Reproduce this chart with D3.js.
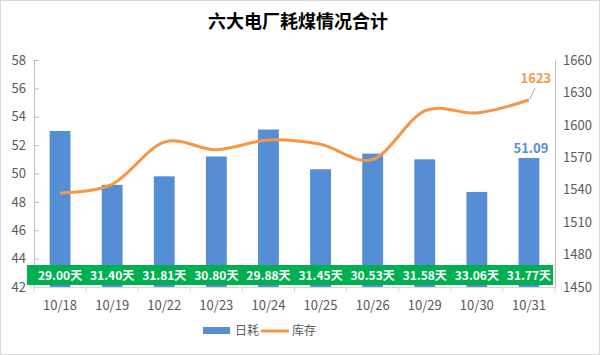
<!DOCTYPE html>
<html><head><meta charset="utf-8">
<script src="https://cdn.jsdelivr.net/npm/d3@7"></script>
<style>body{margin:0;background:#fff}svg{display:block}</style>
</head><body>
<script>
const categories = ["10/18","10/19","10/22","10/23","10/24","10/25","10/26","10/29","10/30","10/31"];
const dailyUse = [53.0, 49.2, 49.8, 51.2, 53.1, 50.3, 51.4, 51.0, 48.7, 51.09];
const stock = [1537, 1545, 1584, 1577, 1586, 1582, 1568, 1613, 1611, 1623];
const daysLabels = ["29.00天","31.40天","31.81天","30.80天","29.88天","31.45天","30.53天","31.58天","33.06天","31.77天"];
const leftTicks = [42,44,46,48,50,52,54,56,58];
const rightTicks = [1450,1480,1510,1540,1570,1600,1630,1660];

const W=600,H=355;
const font='"Microsoft YaHei","Noto Sans CJK SC","Noto Sans",sans-serif';
const svg=d3.select("body").append("svg").attr("width",W).attr("height",H);
svg.append("rect").attr("x",0.5).attr("y",0.5).attr("width",W-1).attr("height",H-1).attr("fill","#fff").attr("stroke","#d9d9d9");

const x=d3.scaleBand().domain(categories).range([34,555]).paddingInner(0.6).paddingOuter(0.3);
const yL=d3.scaleLinear().domain([42,58]).range([287,60]);
const yR=d3.scaleLinear().domain([1450,1660]).range([287,60]);
const step=x.step();

// title
svg.append("text").attr("x",298).attr("y",28).attr("text-anchor","middle")
 .attr("font-family",font).attr("font-size",18).attr("font-weight","bold").attr("fill","#000")
 .text("六大电厂耗煤情况合计");

// left axis
const gl=svg.append("g").attr("transform","translate(34,0)")
 .call(d3.axisLeft(yL).tickValues(leftTicks).tickSize(-5).tickPadding(8));
gl.select(".domain").attr("stroke","#bfbfbf");
gl.selectAll(".tick line").attr("stroke","#bfbfbf");
gl.selectAll(".tick text").attr("fill","#595959").attr("font-size",13).attr("font-family",font);

// right axis
const gr=svg.append("g").attr("transform","translate(555,0)")
 .call(d3.axisRight(yR).tickValues(rightTicks).tickFormat(d3.format("d")).tickSize(0).tickPadding(8));
gr.select(".domain").attr("stroke","#bfbfbf");
gr.selectAll(".tick text").attr("fill","#595959").attr("font-size",13).attr("font-family",font);

// bottom axis
const gb=svg.append("g").attr("transform","translate(0,287)")
 .call(d3.axisBottom(x).tickSize(0).tickPadding(14));
gb.select(".domain").attr("stroke","#d9d9d9");
gb.selectAll(".tick text").attr("fill","#595959").attr("font-size",13).attr("font-family",font);
svg.append("g").selectAll("line").data(d3.range(categories.length+1)).join("line")
 .attr("x1",i=>x.range()[0]+i*step).attr("x2",i=>x.range()[0]+i*step)
 .attr("y1",287).attr("y2",292).attr("stroke","#d9d9d9");

// bars
svg.append("g").selectAll("rect").data(dailyUse).join("rect")
 .attr("x",(d,i)=>x(categories[i])).attr("width",x.bandwidth())
 .attr("y",d=>yL(d)).attr("height",d=>yL(42)-yL(d)).attr("fill","#558ED5");

// green band
svg.append("rect").attr("x",27).attr("y",265).attr("width",526).attr("height",20).attr("fill","#00B050");
svg.append("g").selectAll("text").data(daysLabels).join("text")
 .attr("x",(d,i)=>x(categories[i])+x.bandwidth()/2).attr("y",279.5)
 .attr("text-anchor","middle").attr("font-family",font).attr("font-size",12).attr("font-weight","bold")
 .attr("fill","#fff").text(d=>d);

// line
const line=d3.line().x((d,i)=>x(categories[i])+x.bandwidth()/2).y(d=>yR(d)).curve(d3.curveCatmullRom.alpha(0));
svg.append("path").datum(stock).attr("d",line).attr("fill","none").attr("stroke","#F79646").attr("stroke-width",3);

// labels
const last=stock.length-1;
const lx=x(categories[last])+x.bandwidth()/2;
svg.append("line").attr("x1",lx+1).attr("y1",yR(stock[last])-1).attr("x2",lx+6).attr("y2",yR(stock[last])-12).attr("stroke","#a6a6a6");
svg.append("text").attr("x",lx+7).attr("y",yR(stock[last])-17).attr("text-anchor","middle")
 .attr("font-family",font).attr("font-size",13).attr("font-weight","bold").attr("fill","#F79646").text(stock[last]);
svg.append("text").attr("x",lx+2).attr("y",yL(dailyUse[last])-5).attr("text-anchor","middle")
 .attr("font-family",font).attr("font-size",13).attr("font-weight","bold").attr("fill","#558ED5").text(dailyUse[last].toFixed(2));

// legend
const lg=svg.append("g");
lg.append("rect").attr("x",203).attr("y",327).attr("width",27).attr("height",7).attr("fill","#558ED5");
lg.append("text").attr("x",235).attr("y",335).attr("font-family",font).attr("font-size",12).attr("fill","#595959").text("日耗");
lg.append("line").attr("x1",261).attr("x2",289).attr("y1",331).attr("y2",331).attr("stroke","#F79646").attr("stroke-width",3);
lg.append("text").attr("x",292).attr("y",335).attr("font-family",font).attr("font-size",12).attr("fill","#595959").text("库存");
</script>
</body></html>
